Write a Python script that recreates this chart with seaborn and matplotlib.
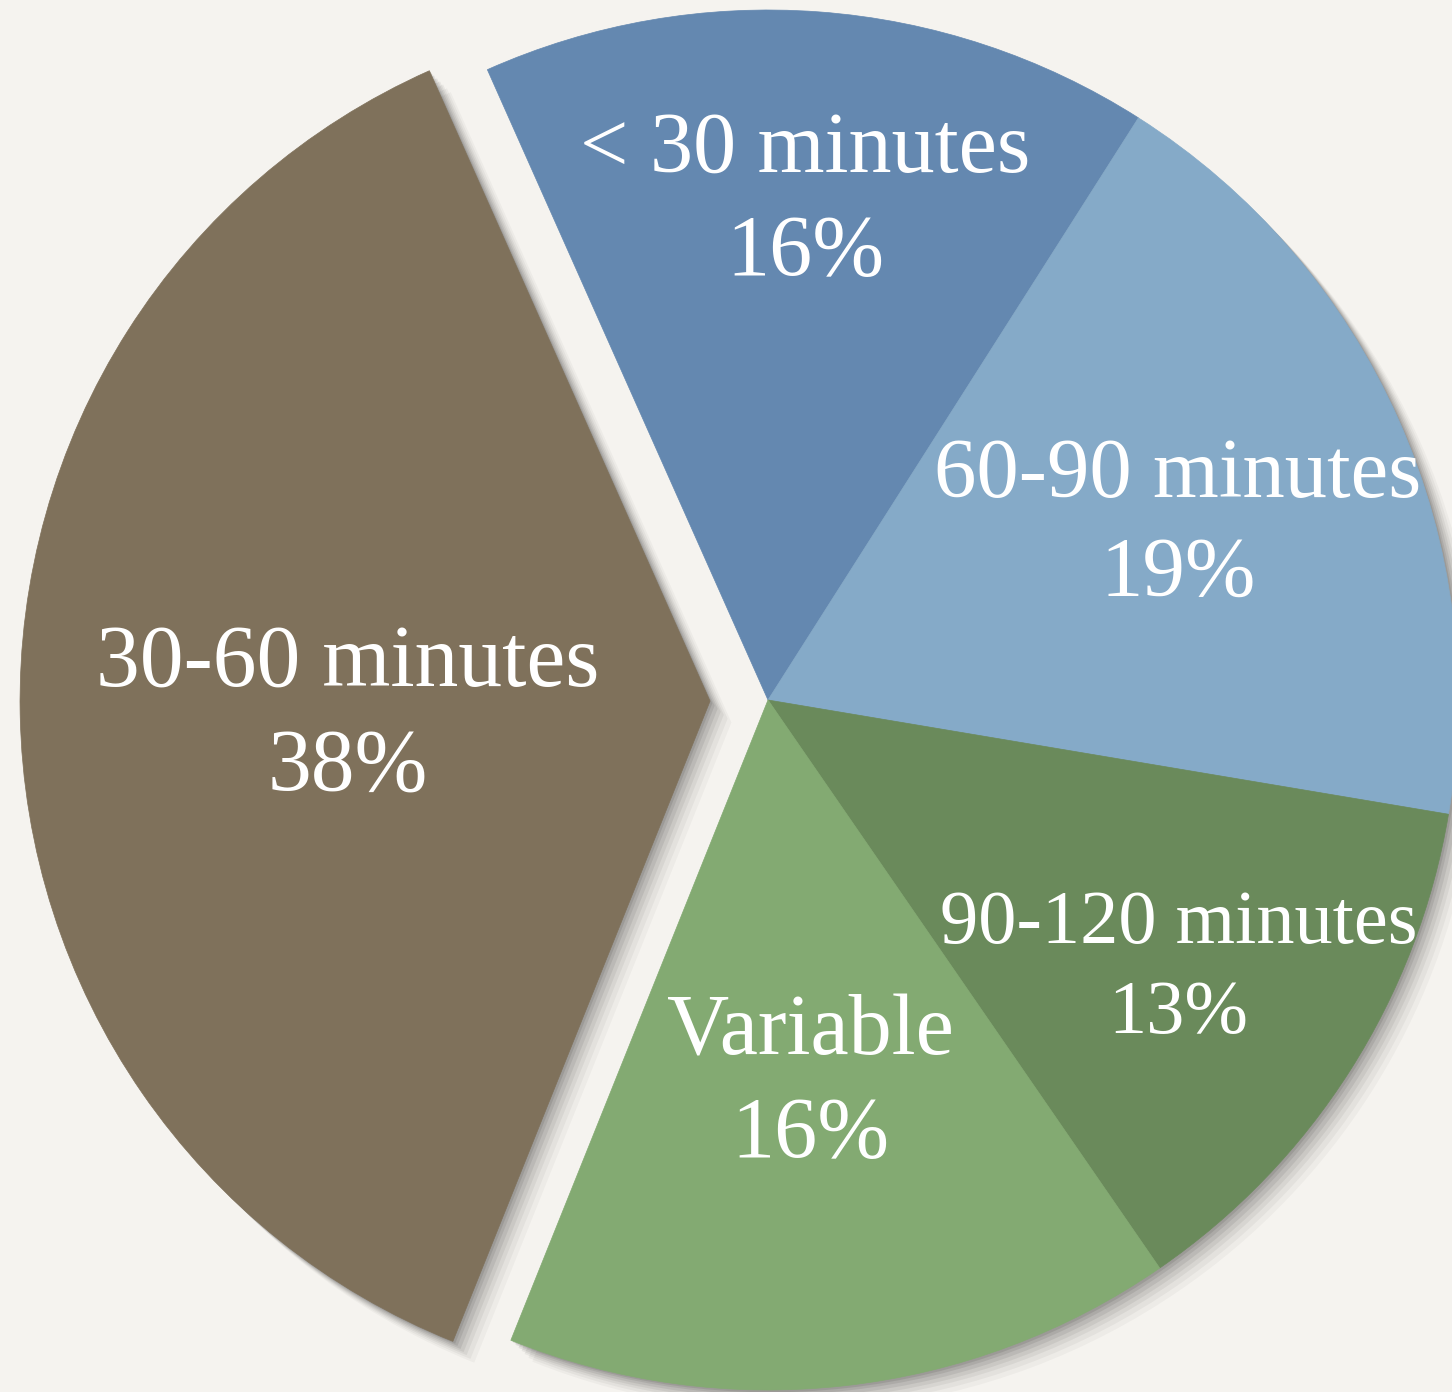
import numpy as np
import matplotlib
matplotlib.use("Agg")
import matplotlib.pyplot as plt
import matplotlib.patheffects as pe
import seaborn as sns

categories = ["< 30 minutes", "60-90 minutes", "90-120 minutes", "Variable", "30-60 minutes"]
values = [16, 19, 13, 16, 38]
pct_labels = ["16%", "19%", "13%", "16%", "38%"]

colors = ["#6488b0", "#85aac8", "#6a8a5b", "#83aa72", "#7f715b"]
explode = [0, 0, 0, 0, 0.084]
label_dist = [0.735, 0.65, 0.705, 0.55, 0.525]
label_size = [62, 61, 55, 62, 63]

sns.set_theme(style="white")
plt.rcParams['font.family'] = ['Liberation Serif', 'DejaVu Serif']

bg = "#f5f3ef"
fig = plt.figure(figsize=(14.52, 13.92), dpi=100, facecolor=bg)
ax = fig.add_axes([0, 0, 1, 1])
ax.set_facecolor(bg)

# soft drop shadow drawn underneath the whole pie
shadow_layers = []
for k, a in [(28, 0.03), (23, 0.04), (18, 0.05), (14, 0.06), (10, 0.07), (6, 0.08), (3, 0.09)]:
    shadow_layers.append(pe.SimplePatchShadow(offset=(k * 0.55, -k * 0.55), shadow_rgbFace="black", alpha=a))

ax.pie(values, colors=colors, startangle=114, counterclock=False,
       explode=explode, radius=1.0, center=(0, 0),
       wedgeprops=dict(linewidth=0, alpha=0.0, path_effects=shadow_layers))

wedges, _ = ax.pie(values, colors=colors, startangle=114, counterclock=False,
                   explode=explode, radius=1.0, center=(0, 0),
                   wedgeprops=dict(linewidth=0.5))
for w, c in zip(wedges, colors):
    w.set_edgecolor(c)

for w, cat, pct, d, fs in zip(wedges, categories, pct_labels, label_dist, label_size):
    ang = np.deg2rad((w.theta1 + w.theta2) / 2)
    cx, cy = w.center
    x = cx + d * np.cos(ang)
    y = cy + d * np.sin(ang) - 0.012
    ax.text(x, y, f"{cat}\n{pct}", ha="center", va="center", color="white",
            fontsize=fs, linespacing=1.38)

ax.set_aspect("equal")
ax.set_xlim(-768 / 690, (1452 - 768) / 690)
ax.set_ylim(-(1392 - 700) / 690, 700 / 690)
ax.axis("off")

fig.savefig("out.png", dpi=100, facecolor=bg)
